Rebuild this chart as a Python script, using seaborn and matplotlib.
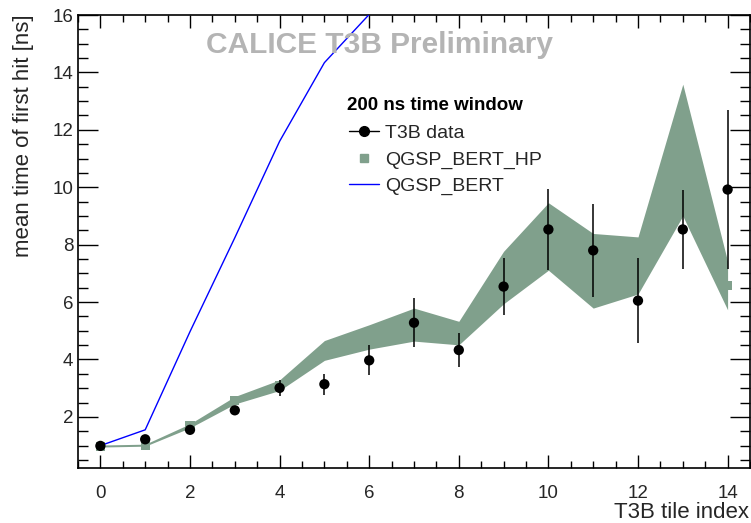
import matplotlib
matplotlib.use("Agg")
import matplotlib.pyplot as plt
from matplotlib.lines import Line2D
from matplotlib.ticker import MultipleLocator
import numpy as np
import pandas as pd
import seaborn as sns

# ---- data ----
tile = [0, 1, 2, 3, 4, 5, 6, 7, 8, 9, 10, 11, 12, 13, 14]
data_mean = [0.99, 1.22, 1.55, 2.23, 3.01, 3.14, 3.97, 5.28, 4.33, 6.54, 8.53, 7.80, 6.05, 8.53, 9.92]
data_err = [0.08, 0.10, 0.10, 0.10, 0.29, 0.37, 0.52, 0.85, 0.60, 1.00, 1.40, 1.63, 1.47, 1.37, 2.78]

hp_low = [0.95, 0.98, 1.62, 2.45, 2.92, 3.97, 4.36, 4.64, 4.51, 5.94, 7.11, 5.79, 6.28, 9.00, 5.73]
hp_high = [1.02, 1.05, 1.76, 2.71, 3.29, 4.66, 5.21, 5.79, 5.33, 7.77, 9.46, 8.39, 8.27, 13.59, 7.42]
hp_center = [0.98, 1.02, 1.69, 2.58, 3.10, 4.31, 4.78, 5.21, 4.92, 6.85, 8.28, 7.09, 7.27, 11.30, 6.58]

bert_tile = [0, 1, 2, 3, 4, 5, 6]
bert_mean = [1.0, 1.55, 4.97, 8.24, 11.6, 14.34, 16.02]

legend_header = "200 ns time window"
legend_labels = ["T3B data", "QGSP_BERT_HP", "QGSP_BERT"]

band_color = "#80a08c"

sns.set_theme(style="ticks")
plt.rcParams["font.family"] = ["Liberation Sans", "DejaVu Sans"]

fig = plt.figure(figsize=(7.51, 5.23), dpi=100)
W, H = 751, 523
ax = fig.add_axes([78 / W, (H - 468) / H, (750 - 78) / W, (468 - 15) / H])

df_data = pd.DataFrame({"tile": tile, "mean": data_mean, "err": data_err})
df_hp = pd.DataFrame({"tile": tile, "low": hp_low, "high": hp_high, "center": hp_center})
df_bert = pd.DataFrame({"tile": bert_tile, "mean": bert_mean})

# band
ax.fill_between(df_hp["tile"], df_hp["low"], df_hp["high"], color=band_color, lw=0, zorder=1)
sns.scatterplot(data=df_hp, x="tile", y="center", marker="s", s=45, color=band_color,
                edgecolor="none", ax=ax, zorder=2, legend=False)

# QGSP_BERT line
sns.lineplot(data=df_bert, x="tile", y="mean", color="#0000ff", lw=1.0, ax=ax, zorder=3,
             legend=False)

# data
ax.errorbar(df_data["tile"], df_data["mean"], yerr=df_data["err"], fmt="none",
            ecolor="black", elinewidth=1.1, capsize=0, zorder=4)
sns.scatterplot(data=df_data, x="tile", y="mean", marker="o", s=55, color="black",
                edgecolor="none", ax=ax, zorder=5, legend=False)

ax.set_xlim(-0.5, 14.5)
ax.set_ylim(0.22, 16)
ax.set_xlabel("")
ax.set_ylabel("")

ax.xaxis.set_major_locator(MultipleLocator(2))
ax.xaxis.set_minor_locator(MultipleLocator(0.5))
ax.set_yticks([2, 4, 6, 8, 10, 12, 14, 16])
ax.yaxis.set_minor_locator(MultipleLocator(0.5))

ax.tick_params(axis="x", which="major", direction="in", length=9.5, width=1.0,
               top=True, bottom=True, labelsize=13.5, pad=12, color="black")
ax.tick_params(axis="x", which="minor", direction="in", length=5, width=1.0,
               top=True, bottom=True, color="black")
ax.tick_params(axis="y", which="major", direction="in", length=14.5, width=1.0,
               left=True, right=True, labelsize=13.5, pad=3.5, color="black")
ax.tick_params(axis="y", which="minor", direction="in", length=7, width=1.0,
               left=True, right=True, color="black")
for s in ax.spines.values():
    s.set_visible(True)
    s.set_color("black")
    s.set_linewidth(1.2)

fig.text(749 / W, 1 - 512 / H, "T3B tile index", ha="right", va="center", fontsize=16)
fig.text(24 / W, 1 - 14 / H, "mean time of first hit [ns]", ha="center", va="top",
         rotation=90, fontsize=16)

fig.text(380 / W, 1 - 45 / H, "CALICE T3B Preliminary", ha="center", va="center",
         fontsize=21.5, fontweight="bold", color="#b4b4b4")

# legend
fig.text(347 / W, 1 - 105 / H, legend_header, ha="left", va="center",
         fontsize=13.5, fontweight="bold", color="black")
handles = [
    Line2D([], [], color="black", lw=1.0, marker="o", markersize=7),
    Line2D([], [], color=band_color, lw=0, marker="s", markersize=6),
    Line2D([], [], color="#0000ff", lw=1.0),
]
leg = ax.legend(handles, legend_labels, loc="upper left", bbox_to_anchor=(349 / W, 1 - 124 / H),
                bbox_transform=fig.transFigure, frameon=False, fontsize=14,
                handlelength=1.55, handletextpad=0.3, labelspacing=0.47,
                borderpad=0, borderaxespad=0)

fig.savefig("out.png", dpi=100)
